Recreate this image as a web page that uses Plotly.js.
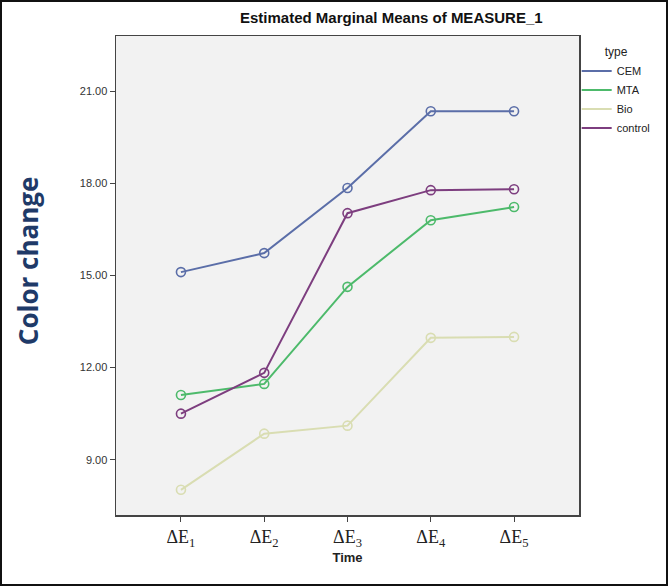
<!DOCTYPE html>
<html>
<head>
<meta charset="utf-8">
<script src="https://cdn.plot.ly/plotly-3.0.1.min.js"></script>
<style>
  html, body { margin: 0; padding: 0; background: #fff; }
  #chart { width: 668px; height: 586px; position: relative; }
  #frame { position: absolute; left: 0; top: 0; width: 668px; height: 586px; box-sizing: border-box; border: 2px solid #111; pointer-events: none; }
</style>
</head>
<body>
<div style="position:relative;width:668px;height:586px;">
  <div id="chart"></div>
  <div id="frame"></div>
</div>
<script>
// Categories (time points)
const timeCodes = ["E1", "E2", "E3", "E4", "E5"];
const tickLabels = ["ΔE<sub>1</sub>", "ΔE<sub>2</sub>", "ΔE<sub>3</sub>", "ΔE<sub>4</sub>", "ΔE<sub>5</sub>"];

// Series values (estimated marginal means)
const groups = ["CEM", "MTA", "Bio", "control"];
const cem = [15.11, 15.73, 17.85, 20.35, 20.35];
const mta = [11.11, 11.47, 14.63, 16.80, 17.23];
const bio = [8.02, 9.85, 10.11, 12.97, 13.00];
const control = [10.50, 11.83, 17.03, 17.78, 17.81];

const yTicks = [9, 12, 15, 18, 21];

const seriesValues = [cem, mta, bio, control];
const colors = ["#5b6ea8", "#4dba6b", "#d9ddb2", "#7d3e7f"];

const xIdx = timeCodes.map((_, i) => i);
const traces = [];
groups.forEach((g, k) => {
  traces.push({
    x: xIdx, y: seriesValues[k], name: g, type: "scatter", mode: "lines",
    line: { color: colors[k], width: 2 }, legendgroup: g, showlegend: true
  });
  traces.push({
    x: xIdx, y: seriesValues[k], name: g, type: "scatter", mode: "markers",
    marker: { symbol: "circle-open", size: 9, color: colors[k], line: { width: 1.6, color: colors[k] } },
    legendgroup: g, showlegend: false, hoverinfo: "skip"
  });
});

const layout = {
  width: 668, height: 586,
  margin: { l: 116, r: 86, t: 36, b: 71 },
  paper_bgcolor: "#ffffff",
  plot_bgcolor: "#f2f2f2",
  font: { family: "Liberation Sans, Arial, sans-serif", color: "#222" },
  showlegend: true,
  legend: {
    title: { text: "type", side: "top center", font: { size: 12, color: "#222" } },
    x: 0.995, xanchor: "left", y: 0.99, yanchor: "top",
    font: { size: 11, color: "#222" },
    bgcolor: "rgba(0,0,0,0)",
    itemwidth: 30, tracegroupgap: 0
  },
  xaxis: {
    range: [-0.78, 4.78],
    tickmode: "array", tickvals: xIdx, ticktext: tickLabels,
    ticks: "outside", ticklen: 5, tickcolor: "#444",
    tickfont: { family: "Liberation Serif, Times New Roman, serif", size: 18, color: "#222" },
    showgrid: false, zeroline: false,
    showline: true, linecolor: "#444", linewidth: 1.5, mirror: true,
    title: { text: "<b>Time</b>", font: { size: 13, color: "#222" }, standoff: 4 }
  },
  yaxis: {
    range: [7.2, 22.8],
    tickmode: "array", tickvals: yTicks, ticktext: yTicks.map(v => v.toFixed(2)),
    ticks: "outside", ticklen: 5, tickcolor: "#444",
    tickfont: { size: 11, color: "#333" },
    showgrid: false, zeroline: false,
    showline: true, linecolor: "#444", linewidth: 1.5, mirror: true
  },
  annotations: [
    {
      text: "<b>Estimated Marginal Means of MEASURE_1</b>",
      xref: "paper", yref: "paper", x: 0.595, y: 1.0, xanchor: "center", yanchor: "bottom", yshift: 8,
      showarrow: false, font: { size: 15, color: "#111" }
    },
    {
      text: "<b>Color change</b>",
      xref: "paper", yref: "paper", x: -0.19, y: 0.53, xanchor: "center", yanchor: "middle",
      textangle: -90, showarrow: false,
      font: { family: "Open Sans, Noto Sans, sans-serif", size: 26, color: "#1f3a68" }
    }
  ]
};

Plotly.newPlot("chart", traces, layout, { displayModeBar: false, staticPlot: true });
</script>
</body>
</html>
